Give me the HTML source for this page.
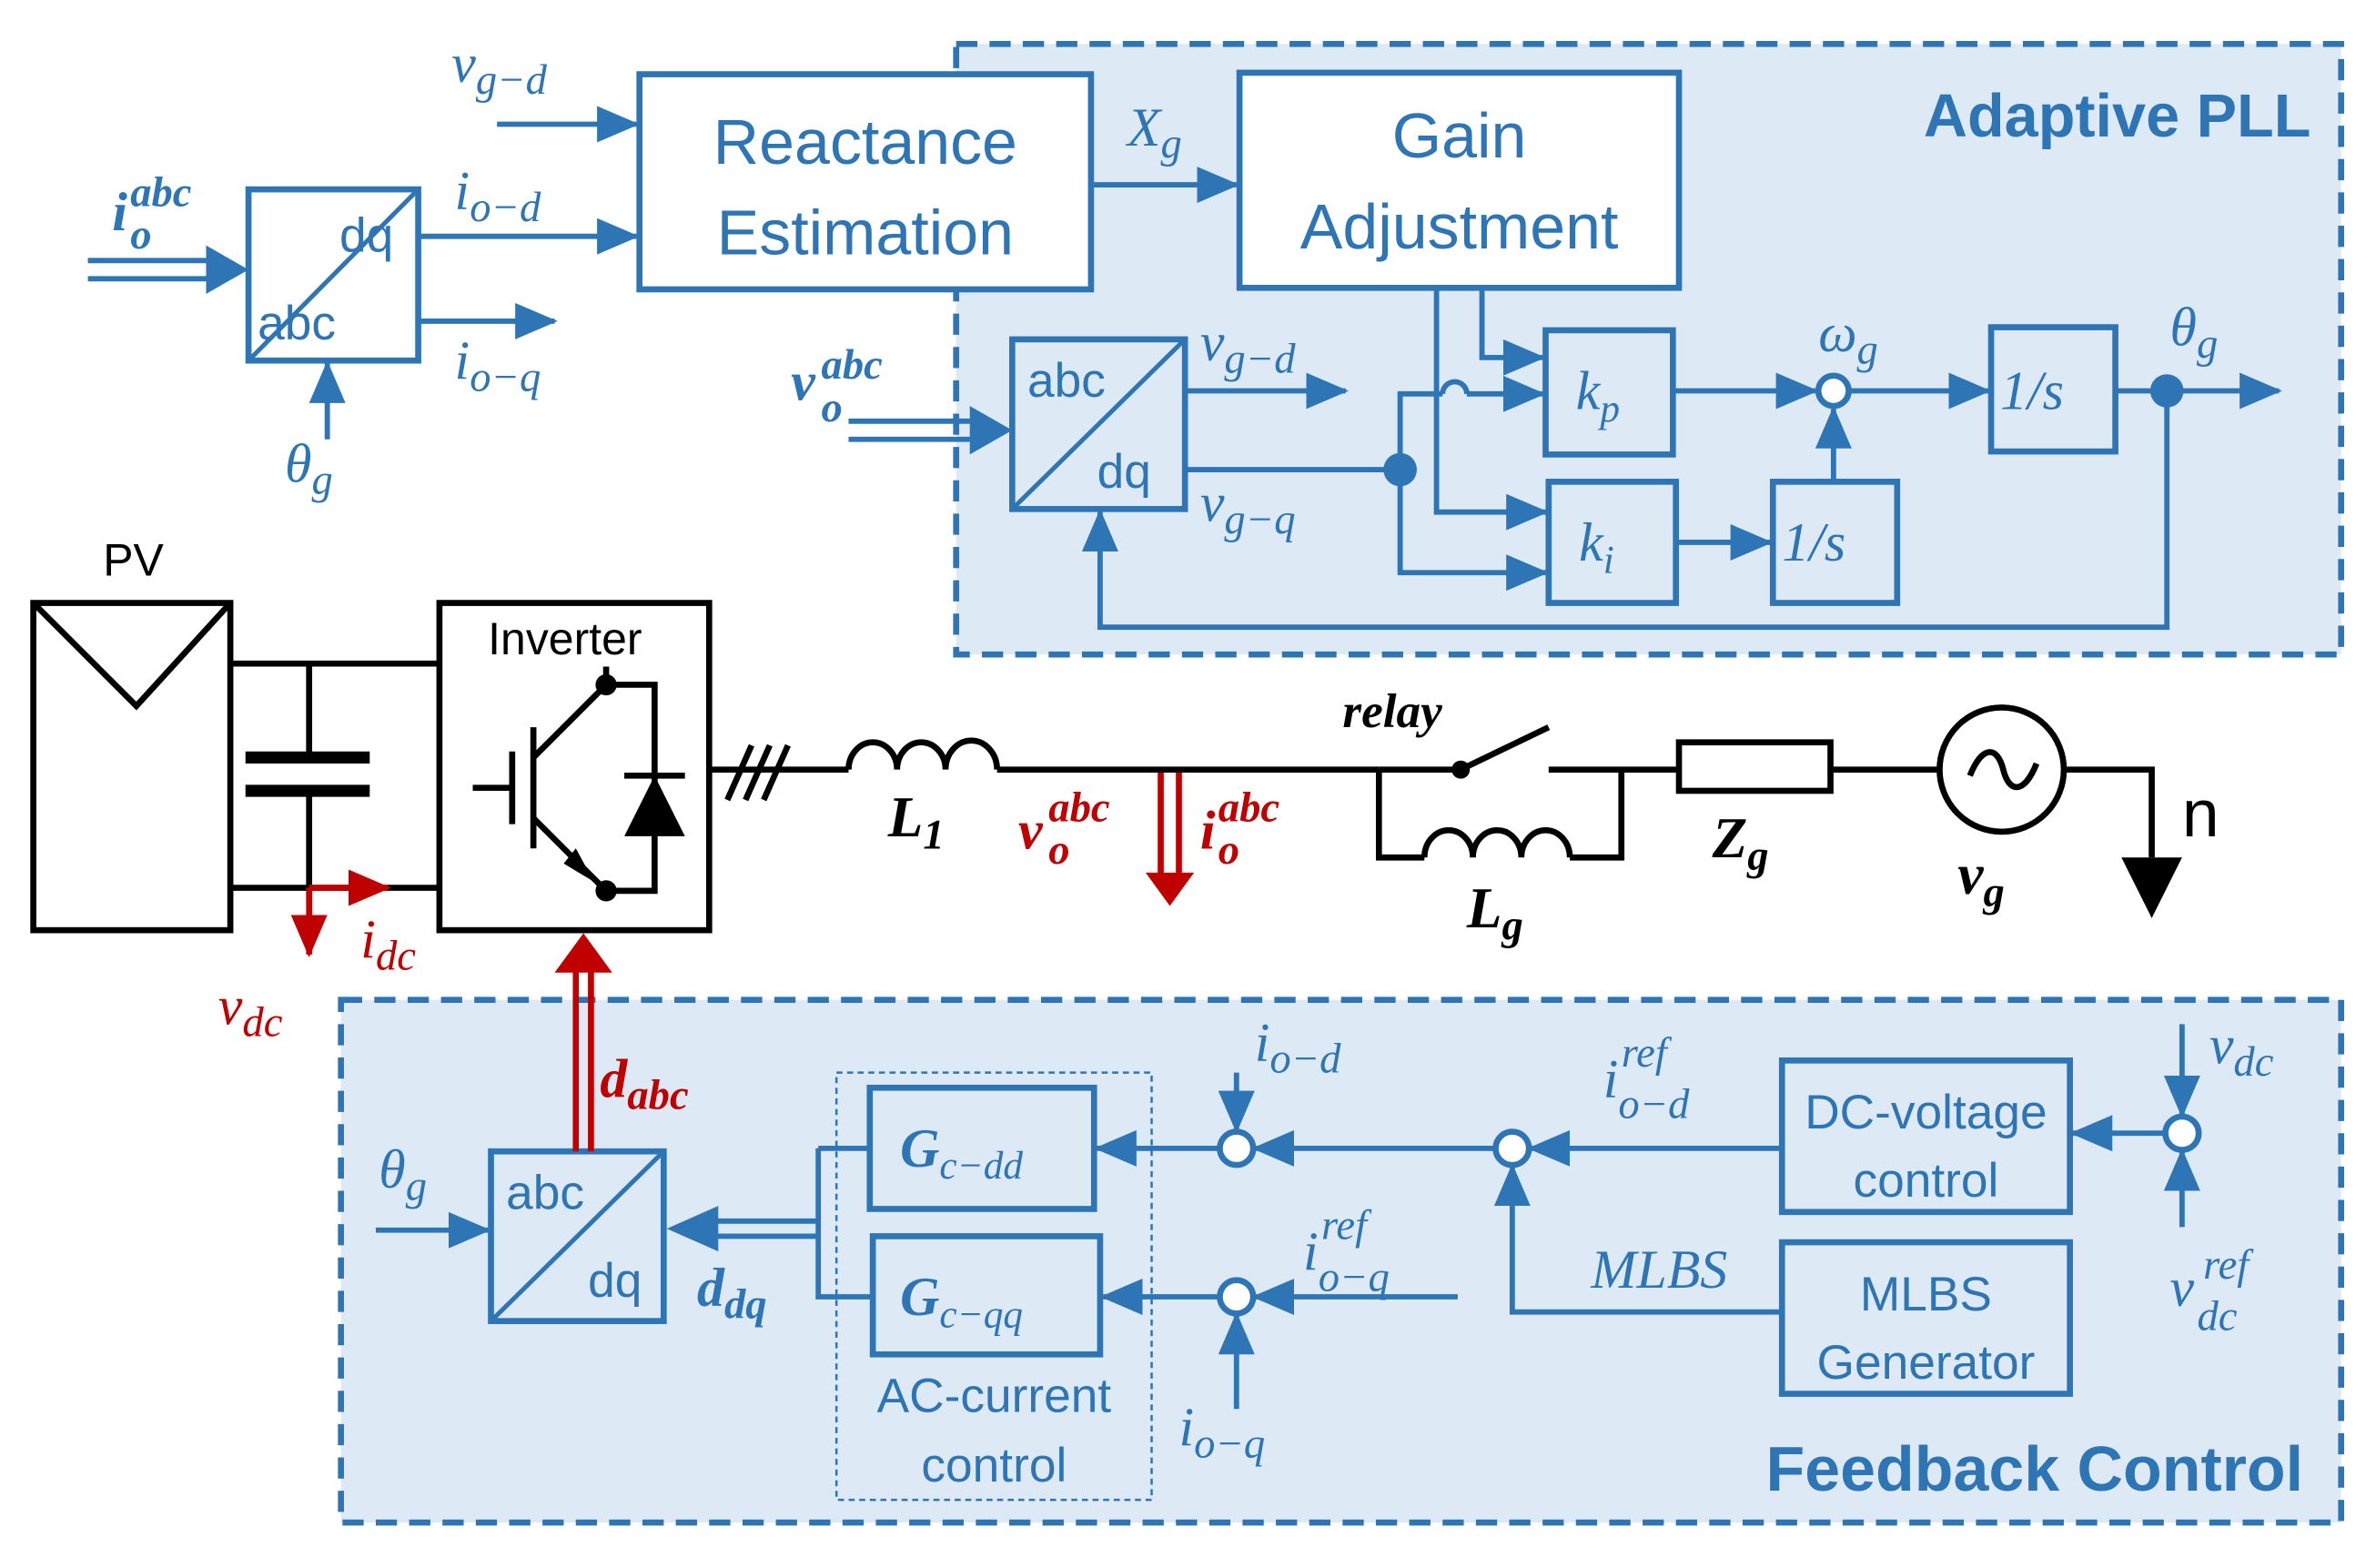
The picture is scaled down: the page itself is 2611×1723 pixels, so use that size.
<!DOCTYPE html>
<html><head><meta charset="utf-8"><style>
html,body{margin:0;padding:0;background:#fff}
svg{display:block}
text{font-family:"Liberation Sans",sans-serif}
.b{fill:#2e75b6}
.m text{font-family:"Liberation Serif",serif;font-style:italic}
</style></head><body>
<svg width="2611" height="1723" viewBox="0 0 1568 1035" preserveAspectRatio="none" xmlns="http://www.w3.org/2000/svg">
<defs>
<marker id="abl" markerWidth="28" markerHeight="24" refX="26" refY="12" orient="auto" markerUnits="userSpaceOnUse"><path d="M0,0 L28,12 L0,24z" fill="#2e75b6"/></marker>
<marker id="ar" markerWidth="28" markerHeight="24" refX="26" refY="12" orient="auto" markerUnits="userSpaceOnUse"><path d="M0,0 L28,12 L0,24z" fill="#c00000"/></marker>
</defs>
<g stroke="#2e75b6" stroke-width="4" fill="#ddeaf6" stroke-dasharray="14,8">
<rect x="631" y="29" width="914" height="403"/>
<rect x="225" y="660" width="1320" height="345"/>
</g>
<text x="1525" y="90" text-anchor="end" font-size="40" font-weight="bold" class="b">Adaptive PLL</text>
<text x="1520" y="984" text-anchor="end" font-size="42" font-weight="bold" class="b">Feedback Control</text>
<g stroke="#2e75b6" stroke-width="4" fill="#fff">
<rect x="422" y="49" width="298" height="142"/>
<rect x="818" y="48" width="290" height="142"/>
<rect x="164" y="125" width="112" height="113"/>
<rect x="668" y="224" width="114" height="112" fill="#ddeaf6"/>
<rect x="1020" y="218" width="84" height="82" fill="#ddeaf6"/>
<rect x="1022" y="318" width="84" height="80" fill="#ddeaf6"/>
<rect x="1170" y="318" width="82" height="80" fill="#ddeaf6"/>
<rect x="1314" y="216" width="82" height="82" fill="#ddeaf6"/>
<rect x="324" y="760" width="114" height="112" fill="#ddeaf6"/>
<rect x="574" y="718" width="148" height="80" fill="#ddeaf6"/>
<rect x="576" y="816" width="150" height="78" fill="#ddeaf6"/>
<rect x="1176" y="700" width="190" height="100" fill="#ddeaf6"/>
<rect x="1176" y="820" width="190" height="100" fill="#ddeaf6"/>
</g>
<rect x="552" y="708" width="208" height="282" fill="none" stroke="#2e75b6" stroke-width="1.5" stroke-dasharray="4,3"/>
<g stroke="#2e75b6" stroke-width="3" fill="none">
<line x1="164" y1="238" x2="276" y2="125"/>
<line x1="668" y1="336" x2="782" y2="224"/>
<line x1="324" y1="872" x2="438" y2="760"/>
</g>
<g font-size="32" class="b">
<text x="571" y="108" text-anchor="middle" font-size="42">Reactance</text>
<text x="571" y="168" text-anchor="middle" font-size="42">Estimation</text>
<text x="963" y="104" text-anchor="middle" font-size="42">Gain</text>
<text x="963" y="164" text-anchor="middle" font-size="42">Adjustment</text>
<text x="224" y="166">dq</text><text x="170" y="224">abc</text>
<text x="678" y="262">abc</text><text x="724" y="322">dq</text>
<text x="334" y="798">abc</text><text x="388" y="856">dq</text>
<text x="1271" y="745" text-anchor="middle">DC-voltage</text>
<text x="1271" y="790" text-anchor="middle">control</text>
<text x="1271" y="865" text-anchor="middle">MLBS</text>
<text x="1271" y="910" text-anchor="middle">Generator</text>
<text x="656" y="932" text-anchor="middle">AC-current</text>
<text x="656" y="978" text-anchor="middle">control</text>
</g>
<g class="b m" font-size="36">
<text x="1040" y="270">k<tspan font-size="26" dy="8">p</tspan></text>
<text x="1042" y="370">k<tspan font-size="26" dy="8">i</tspan></text>
<text x="1176" y="370">1/s</text>
<text x="1320" y="270">1/s</text>
<text x="594" y="770" font-weight="bold">G<tspan font-size="26" dy="8" font-weight="normal">c−dd</tspan></text>
<text x="594" y="868" font-weight="bold">G<tspan font-size="26" dy="8" font-weight="normal">c−qq</tspan></text>
<text x="298" y="54">v<tspan font-size="28" dy="8">g−d</tspan></text>
<text x="300" y="138">i<tspan font-size="28" dy="8">o−d</tspan></text>
<text x="300" y="250">i<tspan font-size="28" dy="8">o−q</tspan></text>
<text x="74" y="152" font-weight="bold">i</text><text x="86" y="136" font-size="28" font-weight="bold">abc</text><text x="86" y="164" font-size="28" font-weight="bold">o</text>
<text x="188" y="318">θ<tspan font-size="28" dy="8">g</tspan></text>
<text x="744" y="96">X<tspan font-size="28" dy="8">g</tspan></text>
<text x="522" y="264" font-weight="bold">v</text><text x="542" y="250" font-size="28" font-weight="bold">abc</text><text x="542" y="278" font-size="28" font-weight="bold">o</text>
<text x="792" y="238">v<tspan font-size="28" dy="8">g−d</tspan></text>
<text x="792" y="344">v<tspan font-size="28" dy="8">g−q</tspan></text>
<text x="1200" y="232">ω<tspan font-size="28" dy="8">g</tspan></text>
<text x="1432" y="228">θ<tspan font-size="28" dy="8">g</tspan></text>
<text x="250" y="784">θ<tspan font-size="28" dy="8">g</tspan></text>
<text x="828" y="700">i<tspan font-size="28" dy="8">o−d</tspan></text>
<text x="778" y="954">i<tspan font-size="28" dy="8">o−q</tspan></text>
<text x="1058" y="724">i</text><text x="1070" y="704" font-size="28">ref</text><text x="1068" y="738" font-size="28">o−d</text>
<text x="860" y="838">i</text><text x="872" y="818" font-size="28">ref</text><text x="870" y="852" font-size="28">o−q</text>
<text x="1050" y="850">MLBS</text>
<text x="1458" y="702">v<tspan font-size="28" dy="8">dc</tspan></text>
<text x="1432" y="862">v</text><text x="1454" y="844" font-size="28">ref</text><text x="1450" y="878" font-size="28">dc</text>
<text x="460" y="862" font-weight="bold">d<tspan font-size="28" dy="8">dq</tspan></text>
</g>
<g stroke="#2e75b6" stroke-width="3.5" fill="none">
<line x1="328" y1="82" x2="420" y2="82" marker-end="url(#abl)"/>
<line x1="276" y1="156" x2="420" y2="156" marker-end="url(#abl)"/>
<line x1="276" y1="212" x2="366" y2="212" marker-end="url(#abl)"/>
<line x1="216" y1="290" x2="216" y2="240" marker-end="url(#abl)"/>
<line x1="720" y1="122" x2="816" y2="122" marker-end="url(#abl)"/>
<line x1="782" y1="258" x2="888" y2="258" marker-end="url(#abl)"/>
<path d="M782,310 H924"/>
<path d="M924,310 V378 H1020" marker-end="url(#abl)"/>
<path d="M924,310 V260 H952 M968,260 H1018" marker-end="url(#abl)"/>
<path d="M952,260 A8,8 0 0 1 968,260"/>
<path d="M948,190 V338 H1020" marker-end="url(#abl)"/>
<path d="M978,190 V236 H1018" marker-end="url(#abl)"/>
<line x1="1104" y1="258" x2="1198" y2="258" marker-end="url(#abl)"/>
<line x1="1106" y1="358" x2="1168" y2="358" marker-end="url(#abl)"/>
<line x1="1210" y1="318" x2="1210" y2="270" marker-end="url(#abl)"/>
<line x1="1220" y1="258" x2="1312" y2="258" marker-end="url(#abl)"/>
<line x1="1396" y1="258" x2="1504" y2="258" marker-end="url(#abl)"/>
<path d="M1430,258 V414 H726 V338" marker-end="url(#abl)"/>
<line x1="248" y1="812" x2="322" y2="812" marker-end="url(#abl)"/>
<line x1="574" y1="758" x2="540" y2="758"/>
<path d="M540,758 V856 H576"/>
<line x1="804" y1="758" x2="724" y2="758" marker-end="url(#abl)"/>
<line x1="804" y1="856" x2="728" y2="856" marker-end="url(#abl)"/>
<line x1="988" y1="758" x2="828" y2="758" marker-end="url(#abl)"/>
<line x1="962" y1="856" x2="828" y2="856" marker-end="url(#abl)"/>
<line x1="816" y1="708" x2="816" y2="746" marker-end="url(#abl)"/>
<line x1="816" y1="930" x2="816" y2="868" marker-end="url(#abl)"/>
<line x1="1176" y1="758" x2="1010" y2="758" marker-end="url(#abl)"/>
<path d="M1176,866 H998 V770" marker-end="url(#abl)"/>
<line x1="1430" y1="748" x2="1368" y2="748" marker-end="url(#abl)"/>
<line x1="1440" y1="676" x2="1440" y2="736" marker-end="url(#abl)"/>
<line x1="1440" y1="810" x2="1440" y2="760" marker-end="url(#abl)"/>
<path d="M58,172 H140 M58,184 H140"/>
<path d="M560,278 H644 M560,290 H644"/>
<path d="M540,806 H472 M540,816 H472"/>
</g>
<g fill="#2e75b6">
<path d="M136,162 L164,178 L136,194z"/>
<path d="M640,268 L668,284 L640,300z"/>
<path d="M474,796 L440,811 L474,826z"/>
<circle cx="924" cy="310" r="11"/><circle cx="1430" cy="258" r="11"/>
</g>
<g fill="#fff" stroke="#2e75b6" stroke-width="4">
<circle cx="1210" cy="258" r="10"/><circle cx="816" cy="758" r="11"/><circle cx="816" cy="856" r="11"/>
<circle cx="998" cy="758" r="11"/><circle cx="1440" cy="748" r="11"/>
</g>
<g stroke="#000" stroke-width="4" fill="none">
<rect x="22" y="398" width="130" height="216"/>
<path d="M22,398 L90,466 L152,398"/>
<path d="M152,438 H290 M152,586 H290"/>
<path d="M204,438 V500 M204,522 V586"/>
<rect x="290" y="398" width="178" height="216"/>
<path d="M468,508 H560 M658,508 H910 M1022,508 H1108 M1208,508 H1280 M1362,508 H1420 V566"/>
<path d="M560,508 a16,18 0 0 1 32,0 a16,18 0 0 1 32,0 a16,18 0 0 1 34,0"/>
<path d="M910,508 H964 L1022,480"/>
<path d="M910,508 V566 H940 M1036,566 H1070 V508"/>
<path d="M940,566 a16,18 0 0 1 32,0 a16,18 0 0 1 32,0 a16,18 0 0 1 32,0"/>
<rect x="1108" y="490" width="100" height="32"/>
<circle cx="1321" cy="508" r="41"/>
<path d="M1300,512 c8,-20 18,-20 22,-4 s14,16 22,-4"/>
<path d="M480,528 L496,492 M492,528 L508,492 M504,528 L520,492"/>
<path d="M338,496 V544 M352,480 V560 M312,520 H338 M352,500 L400,452 V440 M352,540 L400,588 M400,452 H432 V588 H400"/>
</g>
<path d="M162,500 H244 M162,522 H244" stroke="#000" stroke-width="8"/>
<circle cx="964" cy="508" r="6" fill="#000"/>
<circle cx="400" cy="452" r="7" fill="#000"/><circle cx="400" cy="588" r="7" fill="#000"/>
<path d="M412,552 L432,512 L452,552z" fill="#000"/>
<path d="M412,512 H452" stroke="#000" stroke-width="4"/>
<path d="M372,570 L392,582 L380,560z" fill="#000"/>
<path d="M1400,566 H1440 L1420,606z" fill="#000"/>
<text x="68" y="380" font-size="30">PV</text>
<text x="322" y="432" font-size="30">Inverter</text>
<text x="1440" y="552" font-size="44">n</text>
<g class="m" font-weight="bold" font-size="38" fill="#000">
<text x="886" y="480" font-size="32">relay</text>
<text x="586" y="552">L<tspan font-size="28" dy="8">1</tspan></text>
<text x="968" y="612">L<tspan font-size="28" dy="8">g</tspan></text>
<text x="1130" y="566">Z<tspan font-size="28" dy="8">g</tspan></text>
<text x="1292" y="590">v<tspan font-size="28" dy="8">g</tspan></text>
</g>
<g stroke="#c00000" stroke-width="4" fill="none">
<path d="M766,510 V580 M778,510 V580"/>
<line x1="204" y1="586" x2="204" y2="630" marker-end="url(#ar)"/>
<line x1="204" y1="586" x2="256" y2="586" marker-end="url(#ar)"/>
<path d="M380,760 V640 M390,760 V640"/>
</g>
<path d="M756,576 L772,598 L788,576z" fill="#c00000"/>
<path d="M366,642 L385,616 L404,642z" fill="#c00000"/>
<g class="m" font-size="36" fill="#c00000">
<text x="672" y="560" font-weight="bold">v</text><text x="692" y="542" font-size="28" font-weight="bold">abc</text><text x="692" y="570" font-size="28" font-weight="bold">o</text>
<text x="792" y="560" font-weight="bold">i</text><text x="804" y="542" font-size="28" font-weight="bold">abc</text><text x="804" y="570" font-size="28" font-weight="bold">o</text>
<text x="238" y="632">i<tspan font-size="28" dy="8">dc</tspan></text>
<text x="144" y="676">v<tspan font-size="28" dy="8">dc</tspan></text>
<text x="396" y="724" font-weight="bold">d<tspan font-size="28" dy="8">abc</tspan></text>
</g>
</svg>
</body></html>
